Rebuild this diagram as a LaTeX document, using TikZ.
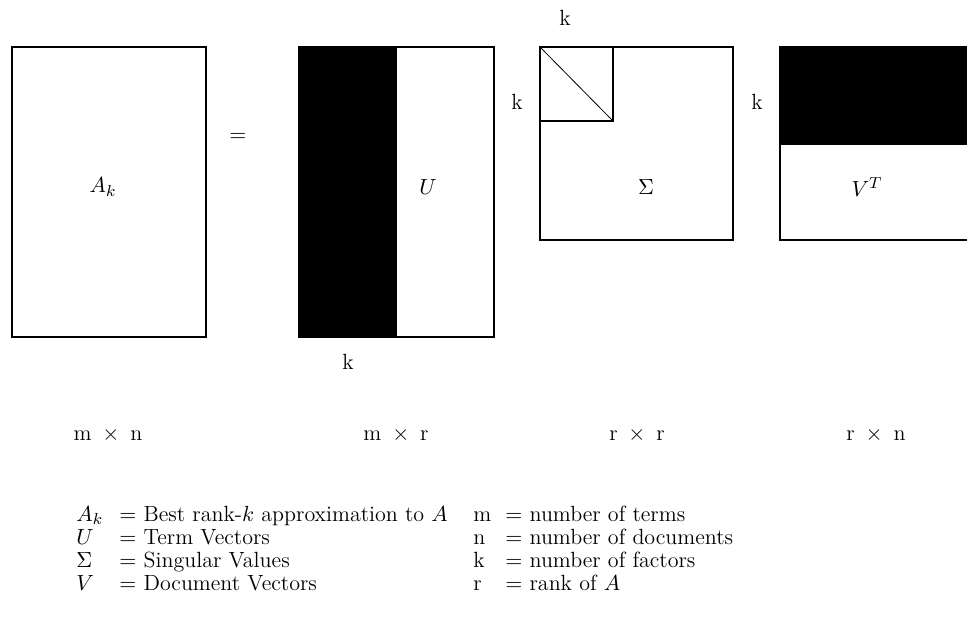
\documentclass[tikz,border=0pt]{standalone}
\begin{document}
\begin{tikzpicture}[x=0.5pt,y=-0.5pt,
  every node/.style={font=\fontsize{11}{11.5}\selectfont},
  thickbox/.style={draw,line width=1pt},
  thinbox/.style={draw,line width=0.6pt},
  diag/.style={draw,line width=0.4pt},
  lbl/.style={inner sep=0pt},
  dimlbl/.style={inner sep=0pt,anchor=base}]
\useasboundingbox (0,0) rectangle (967,629);
% A_k
\draw[thickbox] (12,47) rectangle (206,337);
\node[lbl] (Ak) at (103,187) {$A_k$};
\node[lbl] (eq) at (238,137) {$=$};
% U
\fill (299,47) rectangle (397,337);
\draw[thickbox] (299,47) rectangle (494,337);
\node[lbl] (U) at (428,187) {$U$};
\node[lbl] (kU) at (348,362) {k};
% Sigma
\draw[thinbox] (540,47) rectangle (733,240);
\draw[thickbox] (540,47) rectangle (613,121);
\draw[diag] (540,47) -- (613,121);
\node[lbl] (S) at (646,187) {$\Sigma$};
\node[lbl] (kStop) at (565,18) {k};
\node[lbl] (kSleft) at (517,102) {k};
% V^T
\fill (780,47) rectangle (967,145);
\draw[thinbox] (967,47) -- (780,47) -- (780,240) -- (967,240);
\node[lbl] (VT) at (867,187) {$V^T$};
\node[lbl] (kV) at (757,102) {k};
% dimensions
\node[dimlbl] (dA) at (108,440) {m\ \,$\times$\ \,n};
\node[dimlbl] (dU) at (396,440) {m\ \,$\times$\ \,r};
\node[dimlbl] (dS) at (637,440) {r\ \,$\times$\ \,r};
\node[dimlbl] (dV) at (876,440) {r\ \,$\times$\ \,n};
% legend
\node[inner sep=0pt,anchor=base west] (legend) at (76,521) {%
\begin{tabular}[t]{@{}p{21.5pt}@{}p{177pt}@{}p{16pt}@{}l@{}}
$A_k$ & $=$ Best rank-$k$ approximation to $A$ & m & $=$ number of terms\\
$U$ & $=$ Term Vectors & n & $=$ number of documents\\
$\Sigma$ & $=$ Singular Values & k & $=$ number of factors\\
$V$ & $=$ Document Vectors & r & $=$ rank of $A$
\end{tabular}};
\end{tikzpicture}
\end{document}
